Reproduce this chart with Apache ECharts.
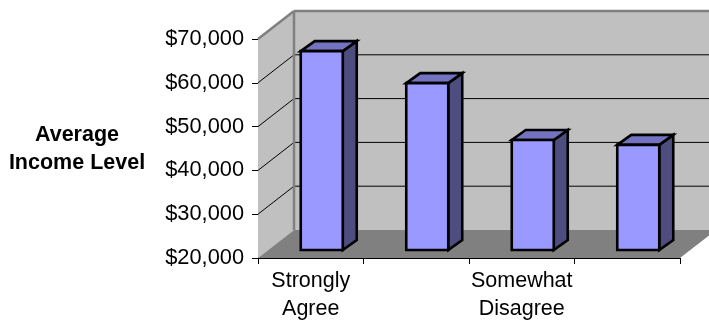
<!DOCTYPE html>
<html>
<head>
<meta charset="utf-8">
<style>html,body{margin:0;padding:0;background:#fff}#chart{width:709px;height:320px}</style>
<script src="https://cdn.jsdelivr.net/npm/echarts@6/dist/echarts.min.js"></script>
</head>
<body>
<div id="chart"></div>
<script>
// Average income by level of agreement, drawn as 3-D style columns
const categories = ['Strongly\nAgree', '', 'Somewhat\nDisagree', ''];
const incomes = [65400, 58100, 45100, 44000];
const axisMin = 20000;
const axisMax = 70000;
const axisStep = 10000;
const gridValues = [30000, 40000, 50000, 60000];
const axisTitle = 'Average\nIncome Level';

// Projection of the box: room depth and column depth, in pixels
const roomDx = 36, roomDy = -28;
const colInsetDx = 12, colInsetDy = -8;
const colDx = 14, colDy = -10;
const colWidth = 42;

const chart = echarts.init(document.getElementById('chart'), null, { renderer: 'canvas' });

function poly(points, fill, stroke, lineWidth) {
  return {
    type: 'polygon',
    shape: { points },
    style: { fill, stroke: stroke || 'none', lineWidth: lineWidth || 0, lineJoin: 'miter' }
  };
}
function seg(a, b, stroke, lineWidth) {
  return {
    type: 'line',
    shape: { x1: a[0], y1: a[1], x2: b[0], y2: b[1] },
    style: { stroke, lineWidth, fill: 'none' }
  };
}

function renderRoom(params, api) {
  const cs = params.coordSys;
  const x0 = cs.x, x1 = cs.x + cs.width;
  const yBottom = cs.y + cs.height, yTop = cs.y;
  const kids = [
    poly([[x0 + roomDx, yTop + roomDy], [x1 + roomDx, yTop + roomDy], [x1 + roomDx, yBottom + roomDy], [x0 + roomDx, yBottom + roomDy]], '#c0c0c0'),
    poly([[x0, yTop], [x0 + roomDx, yTop + roomDy], [x0 + roomDx, yBottom + roomDy], [x0, yBottom]], '#c0c0c0'),
    poly([[x0, yBottom], [x0 + roomDx, yBottom + roomDy], [x1 + roomDx, yBottom + roomDy], [x1, yBottom]], '#808080')
  ];
  gridValues.forEach(v => {
    const y = api.coord([0, v])[1];
    kids.push(seg([x0, y], [x0 + roomDx, y + roomDy], '#000', 1));
    kids.push(seg([x0 + roomDx, y + roomDy], [x1 + roomDx, y + roomDy], '#000', 1));
  });
  kids.push(seg([x0, yTop], [x0 + roomDx, yTop + roomDy], '#808080', 2.5));
  kids.push(seg([x0 + roomDx, yTop + roomDy], [x1 + roomDx, yTop + roomDy], '#808080', 2.5));
  kids.push(seg([x0 + roomDx, yTop + roomDy], [x0 + roomDx, yBottom + roomDy], '#808080', 2.5));
  return { type: 'group', children: kids };
}

function renderColumn(params, api) {
  const top = api.coord([api.value(0), api.value(1)]);
  const base = api.coord([api.value(0), axisMin]);
  const left = top[0] - colWidth / 2 + colInsetDx - 1;
  const right = left + colWidth;
  const yt = top[1] + colInsetDy;
  const yb = base[1] + colInsetDy;
  const line = { stroke: '#000', lw: 2.6 };
  return {
    type: 'group',
    children: [
      poly([[right, yt], [right + colDx, yt + colDy], [right + colDx, yb + colDy], [right, yb]], '#4d4d80', line.stroke, line.lw),
      poly([[left, yt], [left + colDx, yt + colDy], [right + colDx, yt + colDy], [right, yt]], '#7373bf', line.stroke, line.lw),
      poly([[left, yt], [right, yt], [right, yb], [left, yb]], '#9999ff', line.stroke, line.lw)
    ]
  };
}

chart.setOption({
  animation: false,
  backgroundColor: '#fff',
  title: {
    text: axisTitle,
    left: 72,
    top: 116,
    textAlign: 'center',
    textStyle: { fontFamily: 'Liberation Sans', fontSize: 21.5, fontWeight: 'bold', color: '#000', lineHeight: 28 }
  },
  grid: { left: 258, right: 29, top: 39, bottom: 62, containLabel: false, outerBoundsMode: 'none' },
  xAxis: {
    type: 'category',
    data: categories,
    boundaryGap: true,
    axisLine: { show: true, lineStyle: { color: '#000', width: 1 } },
    axisTick: { show: true, alignWithLabel: false, length: 6, interval: 0, lineStyle: { color: '#000' } },
    axisLabel: {
      interval: 0, margin: 9, color: '#000',
      fontFamily: 'Liberation Sans', fontSize: 21.5, lineHeight: 28
    },
    splitLine: { show: false }
  },
  yAxis: {
    type: 'value',
    min: axisMin,
    max: axisMax,
    interval: axisStep,
    axisLine: { show: true, lineStyle: { color: '#333', width: 1 } },
    axisTick: { show: true, length: 6, lineStyle: { color: '#000' } },
    axisLabel: {
      margin: 14, color: '#000',
      fontFamily: 'Liberation Sans', fontSize: 21.8,
      formatter: v => '$' + v.toLocaleString('en-US')
    },
    splitLine: { show: false }
  },
  series: [
    {
      type: 'custom',
      clip: false,
      z: 1,
      silent: true,
      renderItem: renderRoom,
      data: [[0, axisMax]],
      encode: { x: 0, y: 1 }
    },
    {
      type: 'custom',
      clip: false,
      z: 3,
      renderItem: renderColumn,
      data: incomes.map((v, i) => [i, v]),
      encode: { x: 0, y: 1 }
    }
  ]
});
</script>
</body>
</html>
